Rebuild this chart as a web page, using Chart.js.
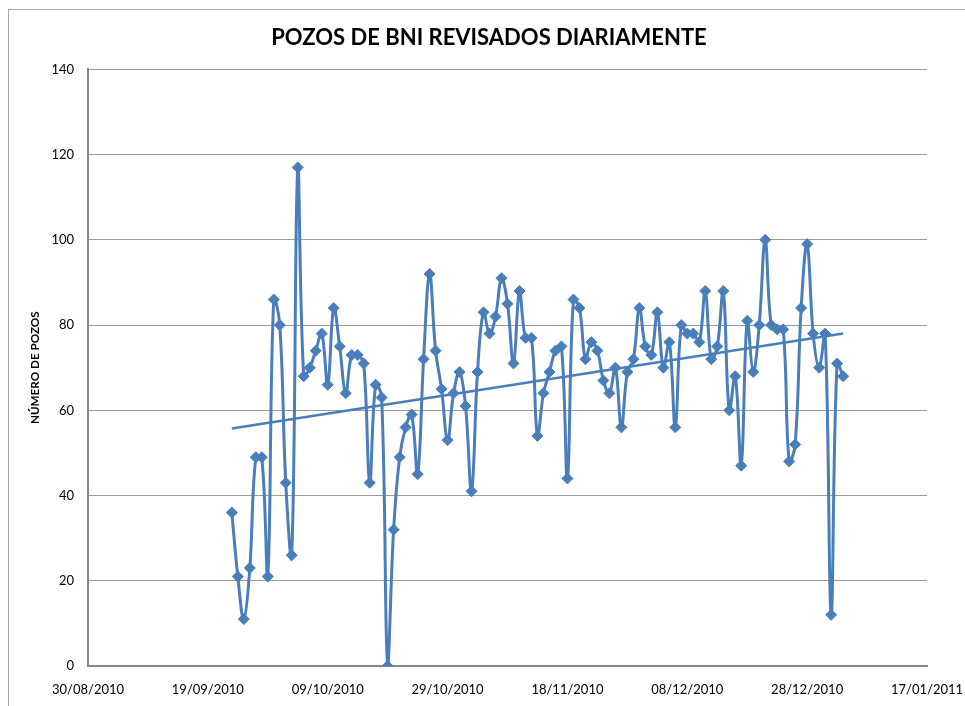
<!DOCTYPE html>
<html>
<head>
<meta charset="utf-8">
<title>Pozos de BNI revisados diariamente</title>
<script src="https://cdn.jsdelivr.net/npm/chart.js@4.4.1/dist/chart.umd.min.js"></script>
<style>
    html, body { margin: 0; padding: 0; background: #fff; overflow: hidden; }
    #frame {
        position: absolute; left: 8px; top: 9px;
        width: 980px; height: 720px;
        border: 1px solid #a6a6a6;
    }
    #plot { position: absolute; left: 0; top: 0; }
</style>
</head>
<body>
<div id="frame"></div>
<canvas id="plot" width="965" height="706"></canvas>
<script>
// Pozos revisados por día, desde el 23/09/2010 hasta el 03/01/2011
const firstDay = '2010-09-23';
const pozos = [
    36, 21, 11, 23, 49, 49, 21, 86, 80, 43,
    26, 117, 68, 70, 74, 78, 66, 84, 75, 64,
    73, 73, 71, 43, 66, 63, 0, 32, 49, 56,
    59, 45, 72, 92, 74, 65, 53, 64, 69, 61,
    41, 69, 83, 78, 82, 91, 85, 71, 88, 77,
    77, 54, 64, 69, 74, 75, 44, 86, 84, 72,
    76, 74, 67, 64, 70, 56, 69, 72, 84, 75,
    73, 83, 70, 76, 56, 80, 78, 78, 76, 88,
    72, 75, 88, 60, 68, 47, 81, 69, 80, 100,
    80, 79, 79, 48, 52, 84, 99, 78, 70, 78,
    12, 71, 68
];

// Eje X: días contados desde el 30/08/2010, marcas cada 20 días
const axisStart = '2010-08-30';
const dateTicks = ['30/08/2010', '19/09/2010', '09/10/2010', '29/10/2010',
                   '18/11/2010', '08/12/2010', '28/12/2010', '17/01/2011'];
const yTicks = [0, 20, 40, 60, 80, 100, 120, 140];

const DAY = 86400000;
const offset = Math.round((Date.parse(firstDay) - Date.parse(axisStart)) / DAY);
const points = pozos.map((v, i) => ({ x: offset + i, y: v }));

// Línea de tendencia lineal (mínimos cuadrados)
const n = points.length;
const sx = points.reduce((s, p) => s + p.x, 0);
const sy = points.reduce((s, p) => s + p.y, 0);
const sxy = points.reduce((s, p) => s + p.x * p.y, 0);
const sxx = points.reduce((s, p) => s + p.x * p.x, 0);
const slope = (n * sxy - sx * sy) / (n * sxx - sx * sx);
const intercept = (sy - slope * sx) / n;
const xFirst = points[0].x, xLast = points[n - 1].x;
const trend = [
    { x: xFirst, y: intercept + slope * xFirst },
    { x: xLast, y: intercept + slope * xLast }
];

const blue = '#4a7ebb';
const font = 'Lato, "Open Sans", sans-serif';

new Chart(document.getElementById('plot'), {
    type: 'line',
    data: {
        datasets: [
            {
                data: points,
                borderColor: blue,
                backgroundColor: blue,
                borderWidth: 3,
                tension: 0.4,
                pointStyle: 'rectRot',
                pointRadius: 5.5,
                pointBorderWidth: 1,
                pointBorderColor: blue,
                pointBackgroundColor: blue,
                fill: false
            },
            {
                data: trend,
                borderColor: blue,
                borderWidth: 2.5,
                pointRadius: 0,
                tension: 0,
                fill: false
            }
        ]
    },
    options: {
        responsive: false,
        animation: false,
        events: [],
        // el título queda centrado sobre el marco, no sobre el lienzo
        layout: { padding: { left: 51, right: 38, top: 0, bottom: 0 } },
        scales: {
            x: {
                type: 'linear',
                min: 0,
                max: 140,
                afterFit: (scale) => {
                    scale.height = 40;
                    scale.paddingLeft = 0;
                    scale.paddingRight = 0;
                },
                ticks: {
                    stepSize: 20,
                    padding: 16,
                    maxRotation: 0,
                    color: '#000',
                    font: { family: font, size: 13 },
                    callback: (v) => dateTicks[v / 20]
                },
                grid: { display: false, drawTicks: false },
                border: { display: true, color: '#868686', width: 2 }
            },
            y: {
                min: yTicks[0],
                max: yTicks[yTicks.length - 1],
                afterFit: (scale) => { scale.width = 37; },
                ticks: {
                    stepSize: 20,
                    padding: 14,
                    color: '#000',
                    font: { family: font, size: 13 }
                },
                grid: { color: '#9c9c9c', lineWidth: 1, drawTicks: false },
                border: { display: true, color: '#868686', width: 2 },
                title: {
                    display: true,
                    text: 'NÚMERO DE POZOS',
                    color: '#000',
                    font: { family: font, size: 11.7, weight: 'bold' },
                    padding: { top: -23, bottom: 0 }
                }
            }
        },
        plugins: {
            legend: { display: false },
            tooltip: { enabled: false },
            title: {
                display: true,
                text: 'POZOS DE BNI REVISADOS DIARIAMENTE',
                color: '#000',
                font: { family: font, size: 22, weight: 'bold' },
                padding: { top: 25, bottom: 18 }
            }
        }
    }
});
</script>
</body>
</html>
